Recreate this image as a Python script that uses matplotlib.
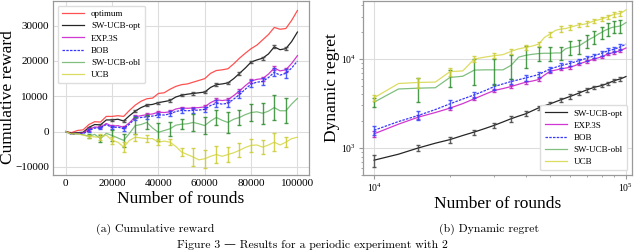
import numpy as np
import matplotlib
matplotlib.use("Agg")
import matplotlib.pyplot as plt
from matplotlib.ticker import LogLocator, NullFormatter

plt.rcParams.update({"font.family": ["Liberation Serif", "DejaVu Serif"],
                     "axes.edgecolor": "#999999", "axes.linewidth": 0.9,
                     "grid.color": "#dddddd", "grid.linewidth": 0.8})

# ---- panel (a): cumulative reward, every 2500 rounds ----
rounds_a = np.arange(0, 100001, 2500)
optimum = [0, -300, 300, 500, 2000, 2800, 2700, 4300, 4300, 4500, 4300, 6000, 7500, 8600,
           9300, 9500, 10800, 11000, 12000, 12800, 13300, 13500, 14000, 14500, 15000, 16500,
           17300, 17500, 17800, 19200, 20800, 22200, 23500, 24500, 26000, 27500, 29500, 29000,
           29200, 31500, 34300]
swucb_opt_a = [0, -500, -300, -200, 1200, 2000, 1900, 3300, 3300, 3500, 3000, 4500, 5800, 6800,
               7500, 7700, 8200, 8500, 8800, 9800, 10300, 10600, 10800, 11000, 11200, 12500,
               13300, 13500, 13800, 15000, 16500, 18000, 19700, 20300, 20800, 22000, 24000,
               23200, 23500, 25500, 28200]
exp3s_a = [0, -700, -500, -400, 600, 1300, 1200, 2300, 1500, 1700, 1200, 2500, 4200, 4500, 4800,
           5000, 5500, 5400, 5600, 6400, 6700, 6600, 6700, 6800, 7000, 8200, 9000, 8800, 9000,
           10200, 11500, 13000, 14300, 14800, 15000, 16300, 18000, 17200, 17500, 19300, 21500]
bob_a = [0, -800, -600, -600, 300, 1000, 1000, 2000, 1100, 1300, 800, 2100, 3800, 4000, 4200,
         4400, 4700, 4700, 5000, 5700, 6000, 5900, 6000, 6100, 6300, 7400, 8000, 7800, 8000,
         9200, 10500, 12000, 13500, 14000, 14200, 15300, 16800, 16000, 16500, 18000, 20000]
swucb_obl_a = [0, -700, -600, -900, -1300, -800, -2000, -500, -1100, -1800, -2500, -500, 1700,
               2000, 2600, 1000, -200, 300, 800, 1800, 2100, 2200, 2600, 2200, 1700, 3000, 4000,
               3200, 2600, 3500, 4000, 4800, 5400, 5600, 5200, 5800, 6800, 5900, 5900, 7800, 9400]
ucb_a = [0, -700, -600, -1000, -1400, -1500, -1600, -1000, -2500, -3000, -4400, -2500, -1600,
         -1800, -2000, -2000, -3000, -2700, -3000, -4200, -5800, -6500, -7200, -8000, -7700,
         -7000, -6500, -7000, -6500, -6000, -5300, -4500, -3900, -3800, -4400, -3800, -3000,
         -3800, -3000, -2000, -1600]
# error bars every 5000 rounds, 10000 .. 95000
err_rounds_a = np.arange(10000, 95001, 5000)
err_swucb_opt_a = [200, 250, 250, 300, 300, 300, 300, 300, 300, 350, 350, 350, 350, 400, 400, 400, 400, 400]
err_exp3s_a = [300, 300, 300, 300, 400, 400, 400, 400, 400, 400, 500, 500, 500, 500, 600, 600, 600, 600]
err_bob_a = [400, 400, 500, 500, 600, 600, 700, 700, 700, 800, 800, 900, 900, 1000, 1000, 1100, 1100, 1200]
err_swucb_obl_a = [500, 1000, 1500, 1800, 2500, 2000, 2500, 2000, 1500, 2500, 2500, 2000, 3000,
                   2000, 2500, 3000, 3500, 3500]
err_ucb_a = [500, 800, 1000, 1500, 1000, 1000, 800, 800, 1200, 2500, 2500, 2500, 2000, 2000,
             1800, 2000, 2500, 1500]

# ---- panel (b): dynamic regret, every 2500 rounds ----
rounds_b = np.arange(10000, 100001, 2500)
swucb_opt_b = [728, 850, 1000, 1130, 1240, 1380, 1510, 1650, 1795, 1960, 2130, 2280, 2420, 2620,
               2820, 2980, 3130, 3300, 3470, 3630, 3790, 3960, 4130, 4320, 4500, 4660, 4820, 4920,
               5020, 5180, 5340, 5530, 5720, 5850, 5970, 6150, 6350]
exp3s_b = [1440, 1850, 2220, 2500, 2800, 3150, 3570, 4000, 4430, 4650, 4900, 5200, 5480, 5650,
           5870, 6600, 7280, 7500, 7730, 7900, 8070, 8400, 8790, 9100, 9420, 9700, 10000, 10300,
           10600, 11000, 11400, 11650, 11900, 12150, 12400, 12850, 13300]
bob_b = [1580, 1980, 2320, 2700, 3130, 3550, 3950, 4400, 4900, 5250, 5580, 5850, 6130, 6400, 6680,
         7200, 7730, 8070, 8420, 8680, 8940, 9250, 9580, 9900, 10200, 10550, 10900, 11250, 11600,
         12000, 12400, 12650, 12900, 13300, 13700, 14200, 14700]
swucb_obl_b = [3270, 4600, 4700, 4750, 6200, 6400, 7500, 7550, 7550, 7550, 8500, 10500, 11000,
               11300, 11500, 11600, 11600, 11700, 11700, 13000, 13500, 13700, 14000, 15000, 16000,
               17000, 17800, 19000, 19900, 21000, 21700, 22500, 23000, 23200, 23500, 24500, 25700]
ucb_b = [3660, 5300, 5450, 5500, 7200, 7350, 10000, 10500, 10900, 11200, 12200, 13000, 13500,
         14000, 14700, 17500, 19100, 21000, 21700, 22000, 22700, 23500, 24200, 24500, 25000,
         26000, 26900, 27500, 28100, 29000, 29800, 31000, 31900, 32200, 32500, 34000, 35700]
err_rounds_b = np.arange(10000, 95001, 5000)
err_swucb_opt_b = [110, 80, 90, 100, 130, 150, 160, 170, 170, 180, 200, 200, 210, 200, 200, 220, 230, 240]
err_exp3s_b = [100, 100, 120, 150, 170, 180, 200, 220, 250, 250, 270, 280, 300, 300, 320, 350, 380, 400]
err_bob_b = [200, 250, 300, 350, 400, 400, 450, 450, 500, 500, 500, 500, 600, 600, 700, 800, 900, 1000]
err_swucb_obl_b = [400, 1450, 1350, 2400, 2400, 2500, 3000, 2000, 2000, 2000, 2500, 2500, 2800,
                   3000, 3000, 3500, 3500, 4000]
err_ucb_b = [300, 700, 700, 800, 700, 700, 800, 800, 1200, 1500, 1500, 1500, 1500, 1500, 1500,
             1500, 2000, 1800]

styles = {
    "optimum":    dict(color="#ff3333", alpha=0.85, ls="-"),
    "SW-UCB-opt": dict(color="black", alpha=0.85, ls="-"),
    "EXP.3S":     dict(color="#cc22cc", alpha=0.9, ls="-"),
    "BOB":        dict(color="#2222ff", alpha=0.9, ls=(0, (2, 1))),
    "SW-UCB-obl": dict(color="#55aa55", alpha=0.75, ls="-"),
    "UCB":        dict(color="#d4d43c", alpha=0.8, ls="-"),
}
ecolors = {"SW-UCB-opt": "#444444", "EXP.3S": "#bb22bb", "BOB": "#3344ff",
           "SW-UCB-obl": "#2e8b2e", "UCB": "#cccc33"}

fig = plt.figure(figsize=(6.4, 2.52), dpi=100)
axA = fig.add_axes([53 / 640, 77 / 252, 256 / 640, 174 / 252])
axB = fig.add_axes([363 / 640, 77 / 252, 269 / 640, 174 / 252])

# Panel (a)
axA.plot(rounds_a, optimum, lw=0.9, label="optimum", **styles["optimum"])
for name, y, e in [("SW-UCB-opt", swucb_opt_a, err_swucb_opt_a), ("EXP.3S", exp3s_a, err_exp3s_a),
                   ("BOB", bob_a, err_bob_a), ("SW-UCB-obl", swucb_obl_a, err_swucb_obl_a),
                   ("UCB", ucb_a, err_ucb_a)]:
    axA.plot(rounds_a, y, lw=0.9, label=name, **styles[name])
    yy = np.interp(err_rounds_a, rounds_a, y)
    axA.errorbar(err_rounds_a, yy, yerr=e, fmt="none",
                 ecolor=ecolors[name], elinewidth=1.0, capsize=1.5, alpha=0.85)
axA.set_xlim(-5500, 105000)
axA.set_ylim(-12300, 37000)
axA.set_xticks([0, 20000, 40000, 60000, 80000, 100000])
axA.set_yticks([-10000, 0, 10000, 20000, 30000])
axA.yaxis.set_major_formatter(matplotlib.ticker.FuncFormatter(
    lambda v, p: f"{int(v)}".replace("-", "\u2212")))
axA.tick_params(labelsize=8, length=0, pad=3)
axA.grid(True)
axA.set_axisbelow(True)
axA.set_xlabel("Number of rounds", fontsize=12.5, labelpad=2)
axA.set_ylabel("Cumulative reward", fontsize=12.5)
axA.yaxis.set_label_coords(-0.145, 0.45)
axA.legend(loc="upper left", fontsize=6.5, frameon=True, framealpha=1, edgecolor="#dddddd",
           handlelength=2.4, borderpad=0.5, labelspacing=0.42, fancybox=True)

# Panel (b)
for name, y, e in [("SW-UCB-opt", swucb_opt_b, err_swucb_opt_b), ("EXP.3S", exp3s_b, err_exp3s_b),
                   ("BOB", bob_b, err_bob_b), ("SW-UCB-obl", swucb_obl_b, err_swucb_obl_b),
                   ("UCB", ucb_b, err_ucb_b)]:
    axB.plot(rounds_b, y, lw=0.9, label=name, **styles[name])
    yy = np.interp(err_rounds_b, rounds_b, y)
    axB.errorbar(err_rounds_b, yy, yerr=e, fmt="none",
                 ecolor=ecolors[name], elinewidth=1.0, capsize=1.5, alpha=0.85)
axB.set_xscale("log")
axB.set_yscale("log")
axB.set_xlim(10 ** 3.956, 10 ** 5.024)
axB.set_ylim(496, 44900)
axB.xaxis.set_minor_formatter(NullFormatter())
axB.yaxis.set_minor_formatter(NullFormatter())
axB.yaxis.set_minor_locator(LogLocator(base=10, subs=np.arange(2, 10)))
axB.tick_params(which="major", labelsize=7, length=3, color="#999999", pad=2)
axB.tick_params(which="minor", length=1.5, color="#999999")
axB.grid(True, which="major")
axB.set_axisbelow(True)
axB.set_xlabel("Number of rounds", fontsize=12.5, labelpad=1)
axB.set_ylabel("Dynamic regret", fontsize=12.5, labelpad=1)
axB.legend(loc="lower right", fontsize=6.5, frameon=True, framealpha=1, edgecolor="#dddddd",
           handlelength=2.4, borderpad=0.5, labelspacing=0.42, fancybox=True)

# sub-captions
cap_font = ["cmr10", "DejaVu Serif"]
fig.text(155 / 640, 1 - 229 / 252, "(a) Cumulative reward", ha="center", va="center",
         fontsize=8.5, family=cap_font)
fig.text(489 / 640, 1 - 229 / 252, "(b) Dynamic regret", ha="center", va="center",
         fontsize=8.5, family=cap_font)
fig.text(312 / 640, 1 - 245 / 252, "Figure 3 \u2014 Results for a periodic experiment with 2",
         ha="center", va="center", fontsize=8.5, family=cap_font)

fig.savefig("out.png", dpi=100)
